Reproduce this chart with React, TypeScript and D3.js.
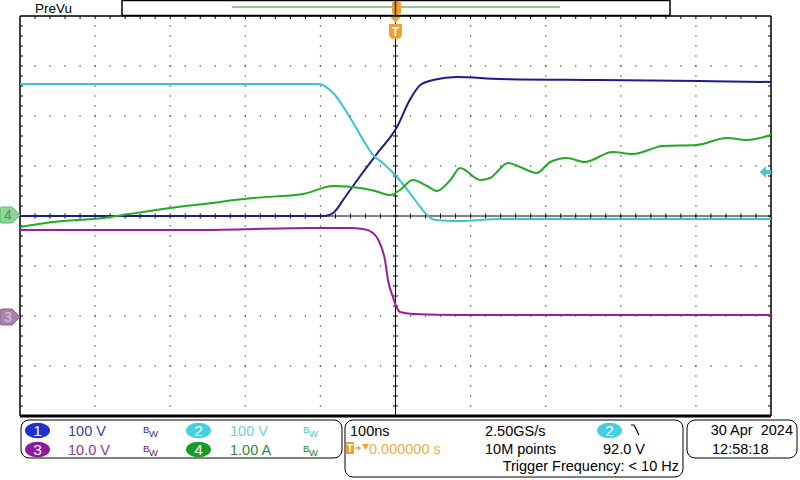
import React from "react";
import * as d3 from "d3";

// time axis: 100 ns/div, trigger at 0
const timeDomain = [-500, 500];

// CH1 (blue) 100 V/div
const ch1Time = [-500, -94, -83, -67, -47, -25, 2, 19, 33, 50, 82, 139, 272, 405, 500];
const ch1Volts = [0, 0, 6, 38, 80, 124, 178, 232, 262, 272, 278, 274, 272, 270, 268];

// CH2 (cyan) 100 V/div
const ch2Time = [-500, -103, -83, -61, -43, -30, -17, 2, 19, 33, 42, 53, 86, 139, 500];
const ch2Volts = [268, 268, 250, 202, 156, 126, 110, 82, 50, 22, 6, -4, -6, -2, -2];

// CH3 (purple) 10 V/div
const ch3Time = [-500, -260, -114, -61, -43, -30, -21, -14, -10, -3, 2, 6, 23, 86, 500];
const ch3Volts = [17.4, 17.4, 17.8, 17.8, 17.6, 16.8, 14.8, 11.4, 7.4, 3.8, 1.8, 1.0, 0.6, 0.4, 0.4];

// CH4 (green) 1 A/div
const ch4Time = [-500, -456, -389, -354, -300, -256, -190, -123, -83, -47, -27, -7, 6, 23, 42, 55, 73, 86, 113, 126, 150, 166, 188, 206, 228, 252, 289, 316, 356, 401, 441, 468, 500];
const ch4Amps = [-0.22, -0.12, -0.04, 0.04, 0.16, 0.24, 0.36, 0.44, 0.6, 0.56, 0.5, 0.42, 0.52, 0.72, 0.6, 0.5, 0.72, 0.96, 0.72, 0.76, 1.06, 0.98, 0.86, 1.08, 1.16, 1.08, 1.28, 1.24, 1.4, 1.42, 1.56, 1.52, 1.62];

const channels = [
  { id: 1, t: ch1Time, v: ch1Volts, perDiv: 100, offset: 0, color: "#1c1c8c" },
  { id: 2, t: ch2Time, v: ch2Volts, perDiv: 100, offset: -0.04, color: "#3cc4cc" },
  { id: 3, t: ch3Time, v: ch3Volts, perDiv: 10, offset: -2.02, color: "#9c1c9c" },
  { id: 4, t: ch4Time, v: ch4Amps, perDiv: 1, offset: 0, color: "#22aa22" },
];

const triggerLevel = 92; // V on CH2

const L = 20, R = 771, T = 16, B = 416;
const font = "'Liberation Sans', Arial, sans-serif";
const fs = 14.5;

export default function App() {
  const x = d3.scaleLinear().domain(timeDomain).range([L, R]);
  const y = d3.scaleLinear().domain([-4, 4]).range([B, T]);
  const cx = x(0);
  const cy = y(0);
  const divW = (R - L) / 10;
  const divH = (B - T) / 8;

  const dots: JSX.Element[] = [];
  for (let i = 1; i < 10; i++) {
    if (i === 5) continue;
    const gx = L + i * divW;
    for (let k = 1; k < 40; k++) {
      dots.push(<rect key={`v${i}-${k}`} x={gx - 0.6} y={T + k * (divH / 5) - 0.6} width={1.2} height={1.2} fill="#333" />);
    }
  }
  for (let j = 1; j < 8; j++) {
    if (j === 4) continue;
    const gy = T + j * divH;
    for (let k = 1; k < 50; k++) {
      dots.push(<rect key={`h${j}-${k}`} x={L + k * (divW / 5) - 0.6} y={gy - 0.6} width={1.2} height={1.2} fill="#333" />);
    }
  }
  const ticks: JSX.Element[] = [];
  for (let k = 1; k < 50; k++) {
    const tx = L + k * (divW / 5);
    ticks.push(<line key={`ct${k}`} x1={tx} x2={tx} y1={cy - 2.5} y2={cy + 2.5} stroke="#000" strokeWidth={1} />);
    ticks.push(<line key={`tt${k}`} x1={tx} x2={tx} y1={T} y2={T + 3} stroke="#000" strokeWidth={1} />);
  }
  for (let k = 1; k < 40; k++) {
    const ty = T + k * (divH / 5);
    ticks.push(<line key={`cv${k}`} x1={cx - 2.5} x2={cx + 2.5} y1={ty} y2={ty} stroke="#000" strokeWidth={1} />);
    ticks.push(<line key={`lt${k}`} x1={L} x2={L + 3} y1={ty} y2={ty} stroke="#000" strokeWidth={1} />);
    ticks.push(<line key={`rt${k}`} x1={R - 3} x2={R} y1={ty} y2={ty} stroke="#000" strokeWidth={1} />);
  }

  const traces = channels.map((c) => {
    const pts = c.t.map((t, i) => [t, c.v[i]] as [number, number]);
    const line = d3
      .line<[number, number]>()
      .x((d) => x(d[0]))
      .y((d) => y(d[1] / c.perDiv + c.offset))
      .curve(d3.curveMonotoneX);
    return <path key={c.id} d={line(pts) || ""} fill="none" stroke={c.color} strokeWidth={2} clipPath="url(#grat)" />;
  });

  const ch2 = channels[1];
  const trigY = y(triggerLevel / ch2.perDiv + ch2.offset);
  const ch3Y = y(channels[2].offset);
  const ch4Y = y(channels[3].offset) - 1;

  const marker = (c: number, fill: string, stroke: string, label: string, txt: string) => (
    <g>
      <path d={`M2,${c - 8} H12 L20,${c} L12,${c + 8} H2 Q0,${c + 8} 0,${c + 6} V${c - 6} Q0,${c - 8} 2,${c - 8} Z`} fill={fill} stroke={stroke} strokeWidth={1} />
      <text x={8} y={c + 5} fontFamily={font} fontSize={14} fill={txt} textAnchor="middle">{label}</text>
    </g>
  );

  const oval = (ox: number, oy: number, fill: string, label: string) => (
    <g>
      <ellipse cx={ox} cy={oy} rx={12.5} ry={7.8} fill={fill} />
      <text x={ox} y={oy + 5.5} fontFamily={font} fontSize={15.5} fill="#fff" textAnchor="middle">{label}</text>
    </g>
  );

  const bw = (bx: number, by: number, color: string) => (
    <text fontFamily={font} fontSize={9.5} fill={color}>
      <tspan x={bx} y={by - 3}>B</tspan>
      <tspan x={bx + 6} y={by + 1}>W</tspan>
    </text>
  );

  return (
    <svg width={800} height={480} style={{ position: "absolute", left: 0, top: 0, background: "#fff" }}>
      <defs>
        <clipPath id="grat">
          <rect x={L} y={T} width={R - L} height={B - T} />
        </clipPath>
      </defs>
      <rect width={800} height={480} fill="#fff" />

      {/* top bar */}
      <text x={35} y={13} fontFamily={font} fontSize={13.5} fill="#000">PreVu</text>
      <rect x={122} y={0.5} width={548} height={15} fill="#fff" stroke="#000" strokeWidth={1.5} />
      <line x1={232} x2={560} y1={7} y2={7} stroke="#2a8a2a" strokeWidth={1.2} />

      {/* graticule */}
      {dots}
      <line x1={L} x2={R} y1={cy} y2={cy} stroke="#000" strokeWidth={1} />
      <line x1={cx} x2={cx} y1={T} y2={B} stroke="#000" strokeWidth={1} />
      {ticks}
      <line x1={L} x2={R} y1={T} y2={T} stroke="#000" strokeWidth={1.5} />
      <line x1={L} x2={L} y1={T} y2={B} stroke="#000" strokeWidth={1.5} />
      <line x1={R} x2={R} y1={T} y2={B} stroke="#000" strokeWidth={1.5} />
      <line x1={L} x2={R} y1={B} y2={B} stroke="#000" strokeWidth={3} />

      {traces}

      {/* trigger markers */}
      <rect x={392} y={1} width={9} height={14} rx={3} fill="#f0a030" />
      <line x1={cx} x2={cx} y1={0} y2={20} stroke="#3a2a10" strokeWidth={1.5} />
      <path d={`M${cx - 5},17 L${cx + 5},17 L${cx},23 Z`} fill="#f0a030" />
      <path d={`M${cx - 6.5},24 H${cx + 6.5} V34 Q${cx + 6.5},39 ${cx},39 Q${cx - 6.5},39 ${cx - 6.5},34 Z`} fill="#f0a030" />
      <text x={cx} y={36} fontFamily={font} fontSize={12} fontWeight="bold" fill="#fff" textAnchor="middle">T</text>
      <path d={`M${R - 11},${trigY} L${R - 5},${trigY - 6} L${R - 5},${trigY - 2} L${R},${trigY - 2} L${R},${trigY + 2} L${R - 5},${trigY + 2} L${R - 5},${trigY + 6} Z`} fill="#40c8d0" />

      {/* channel ground markers */}
      {marker(ch4Y, "#8ad898", "#5cb86a", "4", "#5a8a60")}
      {marker(ch3Y, "#a882a8", "#8a608a", "3", "#d8c8d8")}

      {/* legend box 1 */}
      <rect x={21} y={420} width={321} height={38} rx={8} fill="#fff" stroke="#000" strokeWidth={1} />
      {oval(37.5, 430.5, "#1e30d0", "1")}
      {oval(37.5, 449.5, "#8a1a9a", "3")}
      {oval(198.5, 430.5, "#40d0e0", "2")}
      {oval(198.5, 449.5, "#1a9a2a", "4")}
      <text x={68} y={436} fontFamily={font} fontSize={fs} fill="#3c3c9c">100 V</text>
      <text x={68} y={455} fontFamily={font} fontSize={fs} fill="#8a3a8a">10.0 V</text>
      <text x={230} y={436} fontFamily={font} fontSize={fs} fill="#70d0d8">100 V</text>
      <text x={230} y={455} fontFamily={font} fontSize={fs} fill="#2a8a3a">1.00 A</text>
      {bw(143, 436, "#303080")}
      {bw(143, 455, "#602060")}
      {bw(303, 436, "#50c0c8")}
      {bw(303, 455, "#208030")}

      {/* legend box 2 */}
      <rect x={345} y={420} width={338} height={57} rx={8} fill="#fff" stroke="#000" strokeWidth={1} />
      <text x={350} y={436} fontFamily={font} fontSize={fs} fill="#000">100ns</text>
      <text x={485} y={436} fontFamily={font} fontSize={fs} fill="#000">2.50GS/s</text>
      {oval(609.5, 430.5, "#40d0e0", "2")}
      <path d="M631,425 L634,425 L639,435" fill="none" stroke="#000" strokeWidth={1.2} />
      <rect x={346} y={442} width={8} height={12} fill="#f0a030" />
      <text x={350} y={452} fontFamily={font} fontSize={10} fontWeight="bold" fill="#fff" textAnchor="middle">T</text>
      <path d="M355,448 H360" stroke="#f0a030" strokeWidth={1.3} />
      <path d="M358,445.5 L361,448 L358,450.5 Z" fill="#f0a030" />
      <path d="M362,444 L369,444 L365.5,450 Z" fill="#f0a030" />
      <text x={369} y={454} fontFamily={font} fontSize={fs} fill="#e8b040">0.000000 s</text>
      <text x={485} y={454} fontFamily={font} fontSize={fs} fill="#000">10M points</text>
      <text x={603} y={454} fontFamily={font} fontSize={fs} fill="#000">92.0 V</text>
      <text x={679} y={471} fontFamily={font} fontSize={fs} fill="#000" textAnchor="end">Trigger Frequency: &lt; 10 Hz</text>

      {/* legend box 3 */}
      <rect x={687} y={420} width={110} height={38} rx={8} fill="#fff" stroke="#000" strokeWidth={1} />
      <text x={793} y={435} fontFamily={font} fontSize={fs} fill="#000" textAnchor="end" style={{ whiteSpace: "pre" }}>30 Apr  2024</text>
      <text x={712} y={454} fontFamily={font} fontSize={fs} fill="#000">12:58:18</text>
    </svg>
  );
}
